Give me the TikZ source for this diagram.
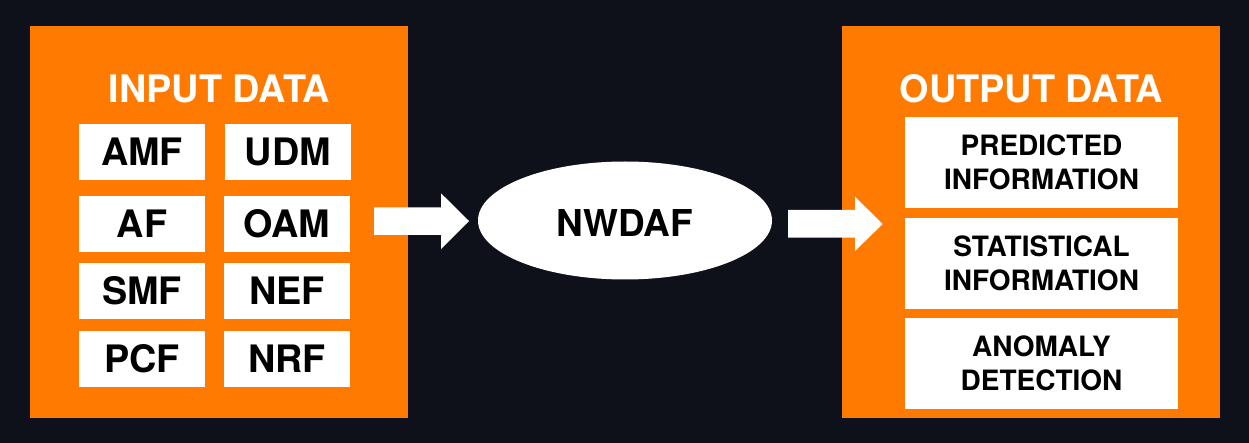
\documentclass[tikz,border=0pt]{standalone}
\usepackage{fontspec}
\setmainfont{TeX Gyre Heros}
\usetikzlibrary{shapes.geometric}
\definecolor{bgdark}{HTML}{0E111A}
\definecolor{orng}{HTML}{FF7A00}
\tikzset{
  panel/.style={fill=orng, draw=none},
  title/.style={text=white, font=\bfseries\fontsize{37.8}{40}\selectfont, inner sep=0pt, text height=27pt, text depth=0pt},
  cell/.style={fill=white, draw=none, inner sep=0pt, minimum width=126pt, minimum height=56pt,
    font=\bfseries\fontsize{37.8}{40}\selectfont, text height=27pt, text depth=0pt, text=black},
  outcell/.style={fill=white, draw=none, inner sep=0pt, minimum width=273pt, minimum height=90.5pt,
    font=\bfseries\fontsize{28}{34}\selectfont, align=center, text=black},
  bigarrow/.style={fill=white, draw=none},
}
\begin{document}
\begin{tikzpicture}[x=1pt,y=-1pt]
\fill[bgdark] (0,0) rectangle (1249,443);
\useasboundingbox (0,0) rectangle (1249,443);
% panels
\node[panel, minimum width=378pt, minimum height=392pt, inner sep=0pt] (inpanel) at (219,222) {};
\node[panel, minimum width=378pt, minimum height=392pt, inner sep=0pt] (outpanel) at (1031,222) {};
\node[title] (intitle) at (219.5,89) {INPUT DATA};
\node[title] (outtitle) at (1031.5,89) {OUTPUT DATA};
% input cells
\node[cell] (amf) at (142,152) {AMF};
\node[cell] (udm) at (288,152) {UDM};
\node[cell] (af)  at (142,224) {AF};
\node[cell] (oam) at (287,224) {OAM};
\node[cell] (smf) at (142,291) {SMF};
\node[cell] (nef) at (287,291) {NEF};
\node[cell] (pcf) at (142,359) {PCF};
\node[cell] (nrf) at (287,359) {NRF};
% output cells
\node[outcell] (pred) at (1041.5,162.3) {PREDICTED\\INFORMATION};
\node[outcell] (stat) at (1041.5,263.5) {STATISTICAL\\INFORMATION};
\node[outcell] (anom) at (1041.5,363.5) {ANOMALY\\DETECTION};
% center ellipse
\node[ellipse, fill=white, draw=none, minimum width=294pt, minimum height=118pt, inner sep=0pt] (nwdaf) at (625,220.5) {};
\node[font=\bfseries\fontsize{37}{40}\selectfont, text height=26.5pt, text depth=0pt, inner sep=0pt] (nwdaflbl) at (625,222.8) {NWDAF};
% arrows
\coordinate (a1) at (374,221);
\coordinate (a2) at (788,224);
\fill[bigarrow] (a1) ++(0,-13.7) -- ++(67,0) -- ++(0,-14) -- ++(28,27.7) -- ++(-28,28) -- ++(0,-14) -- ++(-67,0) -- cycle;
\fill[bigarrow] (a2) ++(0,-14) -- ++(67,0) -- ++(0,-13.3) -- ++(27.7,27.3) -- ++(-27.7,27) -- ++(0,-13.3) -- ++(-67,0) -- cycle;
\end{tikzpicture}
\end{document}
